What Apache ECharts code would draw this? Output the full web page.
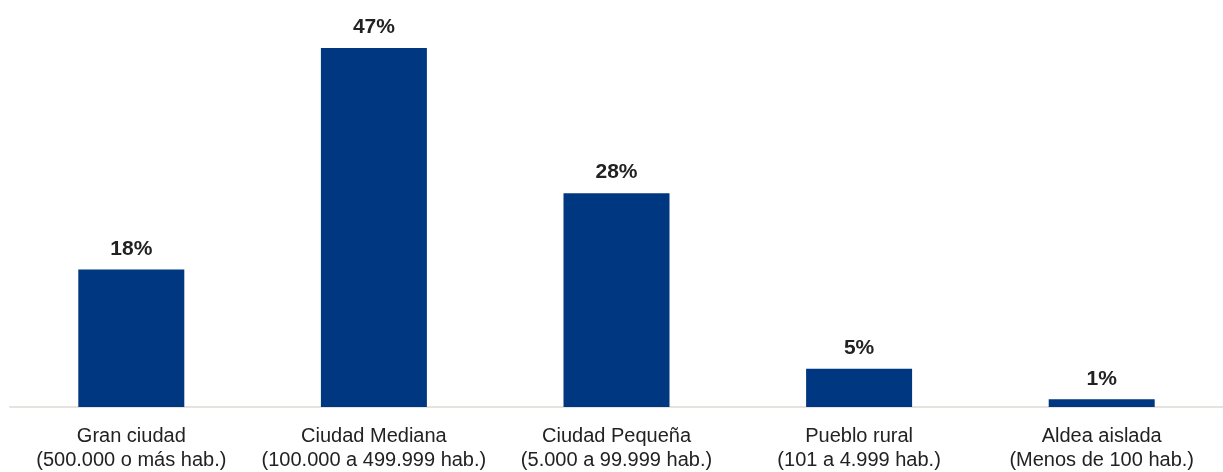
<!DOCTYPE html>
<html>
<head>
<meta charset="utf-8">
<script src="https://cdn.jsdelivr.net/npm/echarts@6/dist/echarts.min.js"></script>
<style>
  html, body { margin: 0; padding: 0; background: #fff; }
  #chart { width: 1223px; height: 472px; }
</style>
</head>
<body>
<div id="chart"></div>
<script>
// categorias (tamaño de localidad) y porcentajes
var categorias = [
  'Gran ciudad\n(500.000 o más hab.)',
  'Ciudad Mediana\n(100.000 a 499.999 hab.)',
  'Ciudad Pequeña\n(5.000 a 99.999 hab.)',
  'Pueblo rural\n(101 a 4.999 hab.)',
  'Aldea aislada\n(Menos de 100 hab.)'
];
var porcentajes = [18, 47, 28, 5, 1];

var myChart = echarts.init(document.getElementById('chart'));

var option = {
  animation: false,
  grid: {
    left: 10,
    right: 0,
    top: 48,
    bottom: 65
  },
  xAxis: {
    type: 'category',
    data: categorias,
    axisTick: { show: false },
    axisLine: { lineStyle: { color: '#e6e2de', width: 2 } },
    axisLabel: {
      color: '#222',
      fontSize: 20,
      lineHeight: 24,
      margin: 17,
      fontFamily: 'Liberation Sans, Arial, sans-serif',
      interval: 0
    }
  },
  yAxis: {
    type: 'value',
    min: 0,
    max: 47,
    show: false,
    splitLine: { show: false }
  },
  series: [{
    type: 'bar',
    data: porcentajes,
    barWidth: 106,
    itemStyle: { color: '#003781' },
    label: {
      show: true,
      position: 'top',
      distance: 10,
      formatter: '{c}%',
      color: '#222',
      fontSize: 21,
      fontWeight: 'bold',
      fontFamily: 'Liberation Sans, Arial, sans-serif'
    }
  }]
};

myChart.setOption(option);
</script>
</body>
</html>
